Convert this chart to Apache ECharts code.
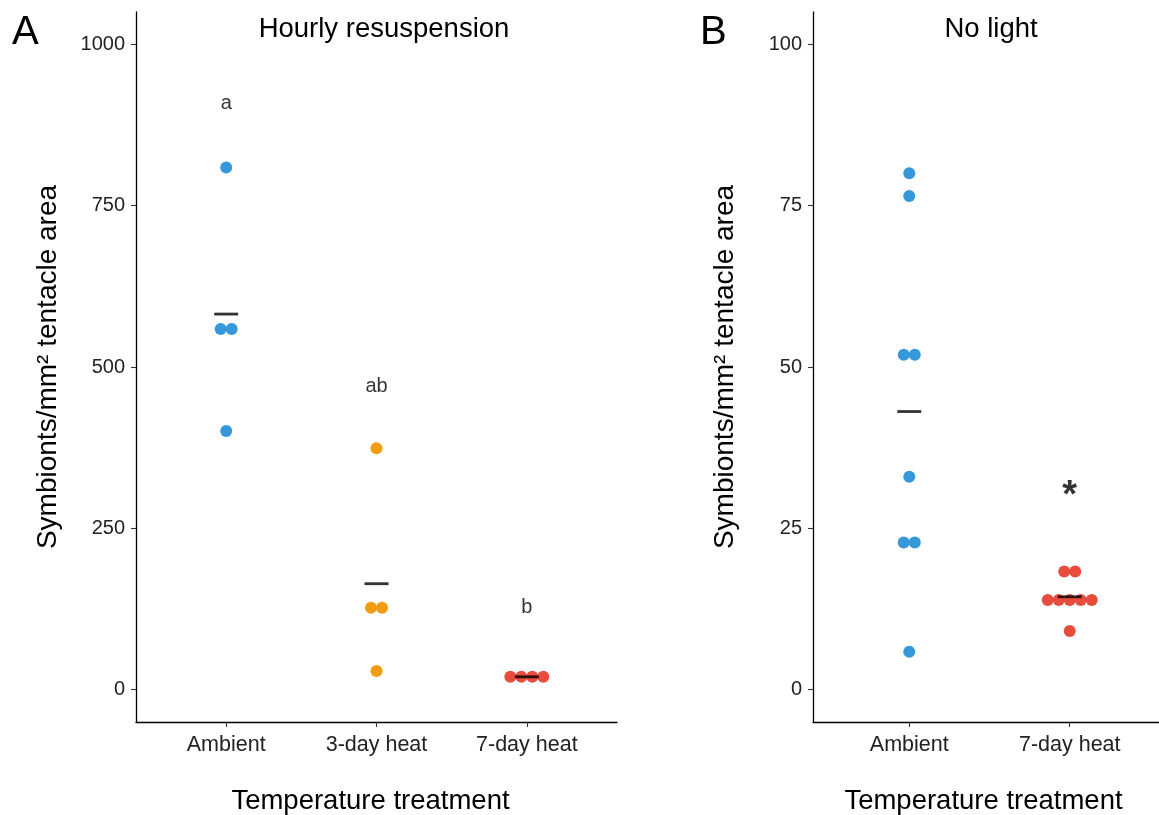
<!DOCTYPE html>
<html>
<head>
<meta charset="utf-8">
<script src="https://cdn.jsdelivr.net/npm/echarts@6/dist/echarts.min.js"></script>
<style>html,body{margin:0;padding:0;background:#fff}#c{width:1159px;height:815px}</style>
</head>
<body>
<div id="c"></div>
<script>
// ---------- data ----------
const categoriesA = ['Ambient', '3-day heat', '7-day heat'];
const categoriesB = ['Ambient', '7-day heat'];
const hourlyAmbient = [809, 559, 559, 401];
const hourly3day = [374, 127, 127, 29];
const hourly7day = [20, 20, 20, 20];
const darkAmbient = [80.0, 76.5, 51.9, 51.9, 33.0, 22.8, 22.8, 5.9];
const dark7day = [18.3, 18.3, 13.9, 13.9, 13.9, 13.9, 13.9, 9.1];
const lettersA = ['a', 'ab', 'b'];
const letterYA = [909, 470, 127];
const starB = ['', '*'];
const starYB = [null, 30];
const ticksA = [0, 250, 500, 750, 1000];
const ticksB = [0, 25, 50, 75, 100];

const colBlue = '#3498db', colOrange = '#f39c12', colRed = '#e74c3c';
const FONT = '"Liberation Sans", Arial, Helvetica, sans-serif';
const DOT = 12, STEP = 11;

function dots(vals, xi) {
  const counts = {}, seen = {};
  vals.forEach(v => counts[v] = (counts[v] || 0) + 1);
  return vals.map(v => {
    const k = counts[v]; const i = seen[v] = (seen[v] === undefined ? 0 : seen[v] + 1);
    return { value: [xi, v], symbolOffset: [(i - (k - 1) / 2) * STEP, 0] };
  });
}
const mean = a => a.reduce((s, v) => s + v, 0) / a.length;

function xAxis(gi, cats) {
  return {
    type: 'value', gridIndex: gi, min: 0.4, max: cats.length + 0.6,
    splitLine: { show: false },
    axisLine: { show: true, onZero: false, lineStyle: { color: '#000', width: 1.3 } },
    axisTick: { show: true, length: 5, customValues: cats.map((c, i) => i + 1), lineStyle: { color: '#333', width: 1.1 } },
    axisLabel: { customValues: cats.map((c, i) => i + 1), formatter: v => cats[Math.round(v) - 1], color: '#222', fontSize: 21.5, fontFamily: FONT, margin: 12 },
    name: 'Temperature treatment', nameLocation: 'middle', nameGap: 65,
    nameTextStyle: { fontSize: 27.5, fontFamily: FONT, color: '#000', padding: [0, 12, 0, 0] }
  };
}
function yAxis(gi, ticks) {
  const top = ticks[ticks.length - 1], pad = top * 0.05;
  return {
    type: 'value', gridIndex: gi, min: -pad, max: top + pad,
    splitLine: { show: false },
    axisLine: { show: true, onZero: false, lineStyle: { color: '#000', width: 1.3 } },
    axisTick: { show: true, length: 5, customValues: ticks, lineStyle: { color: '#333', width: 1.1 } },
    axisLabel: { customValues: ticks, formatter: v => String(v), color: '#222', fontSize: 20, fontFamily: FONT, margin: 11 },
    name: 'Symbionts/mm² tentacle area', nameLocation: 'middle', nameGap: 74, nameRotate: 90,
    nameTextStyle: { fontSize: 28, fontFamily: FONT, color: '#000' }
  };
}
function pointSeries(gi, vals, xi, color) {
  return { type: 'scatter', xAxisIndex: gi, yAxisIndex: gi, symbol: 'circle', symbolSize: DOT,
    itemStyle: { color: color, opacity: 1 }, data: dots(vals, xi), z: 2 };
}
function meanSeries(gi, groups) {
  return { type: 'scatter', xAxisIndex: gi, yAxisIndex: gi, symbol: 'rect', symbolSize: [24, 2.8],
    itemStyle: { color: '#000' }, z: 3,
    data: groups.map((g, i) => [i + 1, mean(g)]) };
}
function labelSeries(gi, labels, ys, size, weight) {
  return { type: 'scatter', xAxisIndex: gi, yAxisIndex: gi, symbolSize: 1,
    itemStyle: { color: 'rgba(0,0,0,0)' }, z: 4,
    label: { show: true, position: 'inside', formatter: p => p.name, fontSize: size, fontWeight: weight, fontFamily: FONT, color: '#000', textBorderWidth: 0 },
    data: labels.map((l, i) => ys[i] === null ? null : { name: l, value: [i + 1, ys[i]] }).filter(d => d) };
}

const chart = echarts.init(document.getElementById('c'), null, { renderer: 'canvas' });
chart.setOption({
  animation: false,
  backgroundColor: '#fff',
  title: [
    { text: 'A', left: 7, top: 8, textStyle: { fontSize: 40, fontWeight: 'normal', fontFamily: FONT, color: '#000' } },
    { text: 'B', left: 695, top: 8, textStyle: { fontSize: 40, fontWeight: 'normal', fontFamily: FONT, color: '#000' } },
    { text: 'Hourly resuspension', left: 379, top: 10, textAlign: 'center', textStyle: { fontSize: 27.5, fontWeight: 'normal', fontFamily: FONT, color: '#000' } },
    { text: 'No light', left: 986, top: 10, textAlign: 'center', textStyle: { fontSize: 27.5, fontWeight: 'normal', fontFamily: FONT, color: '#000' } }
  ],
  grid: [
    { left: 136, top: 12, width: 481, height: 710, outerBoundsMode: 'none', containLabel: false },
    { left: 813, top: 12, width: 353, height: 710, outerBoundsMode: 'none', containLabel: false }
  ],
  xAxis: [xAxis(0, categoriesA), xAxis(1, categoriesB)],
  yAxis: [yAxis(0, ticksA), yAxis(1, ticksB)],
  series: [
    pointSeries(0, hourlyAmbient, 1, colBlue),
    pointSeries(0, hourly3day, 2, colOrange),
    pointSeries(0, hourly7day, 3, colRed),
    meanSeries(0, [hourlyAmbient, hourly3day, hourly7day]),
    labelSeries(0, lettersA, letterYA, 20, 'normal'),
    pointSeries(1, darkAmbient, 1, colBlue),
    pointSeries(1, dark7day, 2, colRed),
    meanSeries(1, [darkAmbient, dark7day]),
    labelSeries(1, starB, starYB, 38, 'bold')
  ]
});
</script>
</body>
</html>
